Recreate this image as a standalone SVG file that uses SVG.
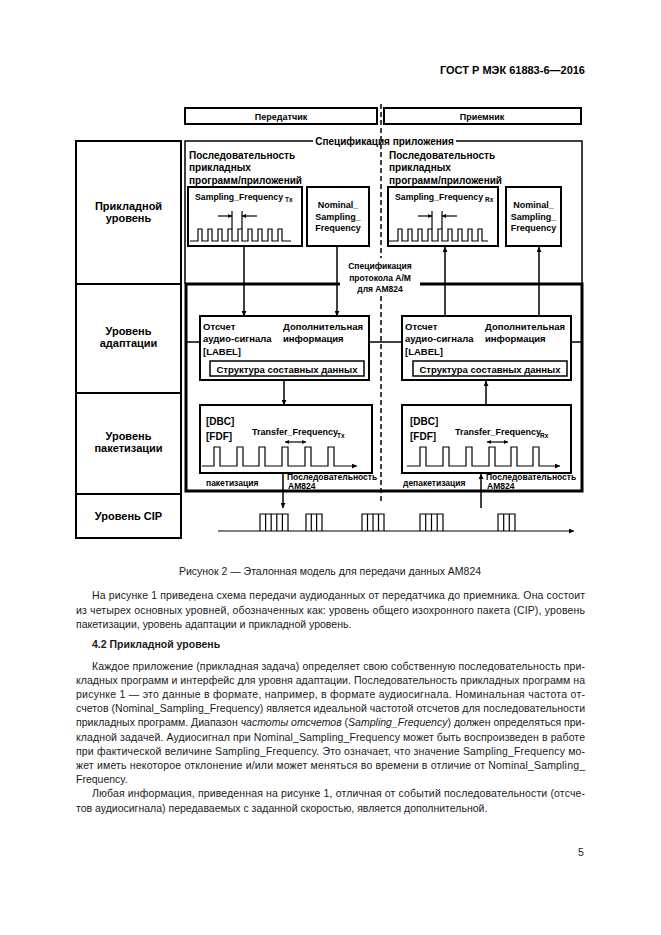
<svg xmlns="http://www.w3.org/2000/svg" width="661" height="935" viewBox="0 0 661 935">
<defs>
<style>
.t{font-family:"Liberation Sans",Arial,sans-serif;font-weight:bold;fill:#000}
.b{font-family:"Liberation Sans",Arial,sans-serif;font-size:10.5px;fill:#1a1a1a}
.bx{fill:none;stroke:#000;stroke-width:2}
.ln{fill:none;stroke:#000;stroke-width:1.5}
.th{fill:none;stroke:#000;stroke-width:3}
.pl{fill:none;stroke:#000;stroke-width:1.2}
.ar{fill:none;stroke:#000;stroke-width:1.5;marker-end:url(#ah)}
</style>
<marker id="ah" viewBox="0 0 10 10" refX="10" refY="5" markerWidth="6" markerHeight="5" orient="auto" markerUnits="userSpaceOnUse"><path d="M0,0 L10,5 L0,10 z" fill="#000"/></marker>
<marker id="as" viewBox="0 0 10 10" refX="10" refY="5" markerWidth="5" markerHeight="4" orient="auto-start-reverse" markerUnits="userSpaceOnUse"><path d="M0,0 L10,5 L0,10 z" fill="#000"/></marker>
</defs>
<rect width="661" height="935" fill="#fff"/>

<text class="t" x="585" y="74" font-size="11" text-anchor="end">ГОСТ Р МЭК 61883-6—2016</text>

<!-- top boxes -->
<g id="tx-header">
<rect class="bx" x="185" y="108" width="192" height="16"/>
<text class="t" x="281" y="119.5" font-size="9" text-anchor="middle">Передатчик</text>
</g>
<g id="rx-header">
<rect class="bx" x="384" y="108" width="197" height="16"/>
<text class="t" x="482" y="119.5" font-size="9" text-anchor="middle">Приемник</text>
</g>

<!-- left column levels -->
<g id="levels">
<rect class="bx" x="76" y="141" width="105" height="397"/>
<line class="bx" x1="76" y1="284" x2="181" y2="284"/>
<line class="bx" x1="76" y1="393" x2="181" y2="393"/>
<line class="bx" x1="76" y1="494" x2="181" y2="494"/>
<text class="t" x="128.5" y="210" font-size="11" text-anchor="middle">Прикладной</text>
<text class="t" x="128.5" y="222" font-size="11" text-anchor="middle">уровень</text>
<text class="t" x="128.5" y="334.5" font-size="11" text-anchor="middle">Уровень</text>
<text class="t" x="128.5" y="346.5" font-size="11" text-anchor="middle">адаптации</text>
<text class="t" x="128.5" y="440" font-size="11" text-anchor="middle">Уровень</text>
<text class="t" x="128.5" y="452" font-size="11" text-anchor="middle">пакетизации</text>
<text class="t" x="128.5" y="519.5" font-size="11" text-anchor="middle">Уровень CIP</text>
</g>

<!-- application spec frame -->
<g id="app-spec">
<polyline class="ln" points="185,284 185,141 582,141 582,284"/>
<rect x="313" y="135" width="143" height="12" fill="#fff"/>
<text class="t" x="384.5" y="144.5" font-size="10" text-anchor="middle">Спецификация приложения</text>
</g>

<!-- dashed separator -->
<line x1="381" y1="104" x2="381" y2="503" stroke="#000" stroke-width="1.5" stroke-dasharray="5,3"/>

<!-- protocol spec frame -->
<g id="protocol-spec">
<rect class="th" x="186" y="284" width="396" height="207"/>
<rect x="340" y="258" width="80" height="36" fill="#fff"/>
<text class="t" x="380" y="269" font-size="8.5" text-anchor="middle">Спецификация</text>
<text class="t" x="380" y="280.5" font-size="8.5" text-anchor="middle">протокола A/M</text>
<text class="t" x="380" y="292" font-size="8.5" text-anchor="middle">для AM824</text>
</g>

<!-- TX application -->
<g id="tx-app">
<text class="t" x="189" y="158.5" font-size="10">Последовательность</text>
<text class="t" x="189" y="171" font-size="10">прикладных</text>
<text class="t" x="189" y="183.5" font-size="10">программ/приложений</text>
</g>
<g id="tx-sampling">
<rect class="bx" x="188" y="187" width="114" height="59"/>
<text class="t" x="195" y="199.5" font-size="9" textLength="88" lengthAdjust="spacingAndGlyphs">Sampling_Frequency</text>
<text class="t" x="285" y="202" font-size="6.5">Tx</text>
<path class="pl" d="M190,241 H198 V229 H202 V241 H208 V229 H212 V241 H218 V229 H222 V241 H228 V229 H232 V241 H238 V229 H242 V241 H248 V229 H252 V241 H258 V229 H262 V241 H268 V229 H272 V241 H278 V229 H282 V241 H291"/>
<line class="pl" x1="232" y1="211" x2="232" y2="229"/>
<line class="pl" x1="242" y1="211" x2="242" y2="229"/>
<line class="pl" x1="218" y1="216" x2="232" y2="216" marker-end="url(#as)"/>
<line class="pl" x1="257" y1="216" x2="242" y2="216" marker-end="url(#as)"/>
</g>
<g id="tx-nominal">
<rect class="bx" x="307" y="187" width="62" height="59"/>
<text class="t" x="338" y="207.5" font-size="9" text-anchor="middle">Nominal_</text>
<text class="t" x="338" y="219.5" font-size="9" text-anchor="middle">Sampling_</text>
<text class="t" x="338" y="231" font-size="9" text-anchor="middle">Frequency</text>
</g>

<!-- RX application -->
<g id="rx-app">
<text class="t" x="389" y="158.5" font-size="10">Последовательность</text>
<text class="t" x="389" y="171" font-size="10">прикладных</text>
<text class="t" x="389" y="183.5" font-size="10">программ/приложений</text>
</g>
<g id="rx-sampling">
<rect class="bx" x="388" y="187" width="110" height="59"/>
<text class="t" x="395" y="199.5" font-size="9" textLength="88" lengthAdjust="spacingAndGlyphs">Sampling_Frequency</text>
<text class="t" x="485" y="202" font-size="6.5">Rx</text>
<path class="pl" d="M389,241 H398 V229 H402 V241 H408 V229 H412 V241 H418 V229 H422 V241 H428 V229 H432 V241 H438 V229 H442 V241 H448 V229 H452 V241 H458 V229 H462 V241 H468 V229 H472 V241 H478 V229 H482 V241 H488"/>
<line class="pl" x1="432" y1="211" x2="432" y2="229"/>
<line class="pl" x1="442" y1="211" x2="442" y2="229"/>
<line class="pl" x1="418" y1="216" x2="432" y2="216" marker-end="url(#as)"/>
<line class="pl" x1="457" y1="216" x2="442" y2="216" marker-end="url(#as)"/>
</g>
<g id="rx-nominal">
<rect class="bx" x="506" y="187" width="55" height="59"/>
<text class="t" x="533.5" y="207.5" font-size="9" text-anchor="middle">Nominal_</text>
<text class="t" x="533.5" y="219.5" font-size="9" text-anchor="middle">Sampling_</text>
<text class="t" x="533.5" y="231" font-size="9" text-anchor="middle">Frequency</text>
</g>

<!-- adaptation -->
<g id="tx-adapt">
<rect class="bx" x="200" y="316" width="169" height="64"/>
<text class="t" x="203" y="329.5" font-size="9.5">Отсчет</text>
<text class="t" x="203" y="342" font-size="9.5">аудио-сигнала</text>
<text class="t" x="203" y="355" font-size="9.5">[LABEL]</text>
<text class="t" x="283" y="329.5" font-size="9.5">Дополнительная</text>
<text class="t" x="283" y="342" font-size="9.5">информация</text>
<rect class="ln" x="210" y="361" width="154" height="15"/>
<text class="t" x="287" y="372.5" font-size="9.5" text-anchor="middle">Структура составных данных</text>
</g>
<g id="rx-adapt">
<rect class="bx" x="402" y="316" width="169" height="64"/>
<text class="t" x="405" y="329.5" font-size="9.5">Отсчет</text>
<text class="t" x="405" y="342" font-size="9.5">аудио-сигнала</text>
<text class="t" x="405" y="355" font-size="9.5">[LABEL]</text>
<text class="t" x="485" y="329.5" font-size="9.5">Дополнительная</text>
<text class="t" x="485" y="342" font-size="9.5">информация</text>
<rect class="ln" x="413" y="361" width="154" height="15"/>
<text class="t" x="490" y="372.5" font-size="9.5" text-anchor="middle">Структура составных данных</text>
</g>

<!-- packetization -->
<g id="tx-packet">
<rect class="bx" x="200" y="405" width="172" height="68"/>
<text class="t" x="206" y="424.5" font-size="10">[DBC]</text>
<text class="t" x="206" y="439.5" font-size="10">[FDF]</text>
<text class="t" x="252" y="435" font-size="9">Transfer_Frequency</text>
<text class="t" x="337" y="437.5" font-size="6.5">Tx</text>
<path class="pl" d="M202,466 H214 V447 H220 V466 H237 V447 H243 V466 H259 V447 H265 V466 H282 V447 H288 V466 H305 V447 H311 V466 H328 V447 H334 V466 H357" marker-end="url(#ah)"/>
<line class="pl" x1="285" y1="442" x2="306" y2="442" marker-start="url(#as)" marker-end="url(#as)"/>
</g>
<g id="rx-packet">
<rect class="bx" x="402" y="405" width="169" height="68"/>
<text class="t" x="410" y="424.5" font-size="10">[DBC]</text>
<text class="t" x="410" y="439.5" font-size="10">[FDF]</text>
<text class="t" x="455" y="435" font-size="9">Transfer_Frequency</text>
<text class="t" x="540" y="437.5" font-size="6.5">Rx</text>
<path class="pl" d="M407,466 H420 V447 H426 V466 H443 V447 H449 V466 H466 V447 H472 V466 H489 V447 H495 V466 H511 V447 H517 V466 H533 V447 H539 V466 H560" marker-end="url(#ah)"/>
<line class="pl" x1="487" y1="442" x2="508" y2="442" marker-start="url(#as)" marker-end="url(#as)"/>
</g>
<g id="packet-labels">
<text class="t" x="206" y="486" font-size="8.5">пакетизация</text>
<text class="t" x="287" y="480" font-size="8.5">Последовательность</text>
<text class="t" x="288" y="488.5" font-size="8.5">AM824</text>
<text class="t" x="403" y="486" font-size="8.5">депакетизация</text>
<text class="t" x="486" y="480" font-size="8.5">Последовательность</text>
<text class="t" x="487" y="488.5" font-size="8.5">AM824</text>
</g>

<!-- CIP -->
<g id="cip">
<line class="pl" x1="218" y1="531" x2="574" y2="531" marker-end="url(#ah)"/>
<path class="pl" d="M260,531 V514 H288 V531 M265.6,514 V531 M271.2,514 V531 M276.8,514 V531 M282.4,514 V531"/>
<path class="pl" d="M306,531 V514 H322 V531 M311.3,514 V531 M316.6,514 V531"/>
<path class="pl" d="M362,531 V514 H384 V531 M367.5,514 V531 M373,514 V531 M378.5,514 V531"/>
<path class="pl" d="M420,531 V514 H443 V531 M425.7,514 V531 M431.5,514 V531 M437.2,514 V531"/>
<path class="pl" d="M498,531 V514 H515 V531 M503.7,514 V531 M509.3,514 V531"/>
</g>

<!-- connectors -->
<g id="connectors">
<line class="ar" x1="244" y1="246" x2="244" y2="316"/>
<line class="ar" x1="337" y1="246" x2="337" y2="316"/>
<line class="ar" x1="445" y1="316" x2="445" y2="247"/>
<line class="ar" x1="539" y1="316" x2="539" y2="247"/>
<line class="ln" x1="186" y1="342" x2="200" y2="342"/>
<line class="ln" x1="369" y1="342" x2="402" y2="342"/>
<line class="ln" x1="571" y1="342" x2="582" y2="342"/>
<line class="ar" x1="284" y1="380" x2="284" y2="405"/>
<line class="ar" x1="486" y1="405" x2="486" y2="381"/>
<line class="ar" x1="283" y1="473" x2="283" y2="508"/>
<line class="ar" x1="481" y1="508" x2="481" y2="474"/>
</g>

<!-- caption and body text -->
<text class="b" x="330" y="575" font-size="9.5" text-anchor="middle">Рисунок 2 — Эталонная модель для передачи данных AM824</text>

<text class="b" x="92" y="599" textLength="493" lengthAdjust="spacing">На рисунке 1 приведена схема передачи аудиоданных от передатчика до приемника. Она состоит</text>
<text class="b" x="76" y="613.5" textLength="509" lengthAdjust="spacing">из четырех основных уровней, обозначенных как: уровень общего изохронного пакета (CIP), уровень</text>
<text class="b" x="76" y="628">пакетизации, уровень адаптации и прикладной уровень.</text>

<text class="b" x="92" y="647.5" font-weight="bold">4.2 Прикладной уровень</text>

<text class="b" x="92" y="669.5" textLength="493" lengthAdjust="spacing">Каждое приложение (прикладная задача) определяет свою собственную последовательность при-</text>
<text class="b" x="76" y="683.7" textLength="509" lengthAdjust="spacing">кладных программ и интерфейс для уровня адаптации. Последовательность прикладных программ на</text>
<text class="b" x="76" y="697.9" textLength="509" lengthAdjust="spacing">рисунке 1 — это данные в формате, например, в формате аудиосигнала. Номинальная частота от-</text>
<text class="b" x="76" y="712.1" textLength="509" lengthAdjust="spacing">счетов (Nominal_Sampling_Frequency) является идеальной частотой отсчетов для последовательности</text>
<text class="b" x="76" y="726.3" textLength="509" lengthAdjust="spacing">прикладных программ. Диапазон <tspan font-style="italic">частоты отсчетов</tspan> (<tspan font-style="italic">Sampling_Frequency</tspan>) должен определяться при-</text>
<text class="b" x="76" y="740.5" textLength="509" lengthAdjust="spacing">кладной задачей. Аудиосигнал при Nominal_Sampling_Frequency может быть воспроизведен в работе</text>
<text class="b" x="76" y="754.7" textLength="509" lengthAdjust="spacing">при фактической величине Sampling_Frequency. Это означает, что значение Sampling_Frequency мо-</text>
<text class="b" x="76" y="768.9" textLength="509" lengthAdjust="spacing">жет иметь некоторое отклонение и/или может меняться во времени в отличие от Nominal_Sampling_</text>
<text class="b" x="76" y="783.1">Frequency.</text>
<text class="b" x="92" y="797.3" textLength="493" lengthAdjust="spacing">Любая информация, приведенная на рисунке 1, отличная от событий последовательности (отсче-</text>
<text class="b" x="76" y="811.5">тов аудиосигнала) передаваемых с заданной скоростью, является дополнительной.</text>

<text class="b" x="581" y="856" font-size="10.5" text-anchor="middle">5</text>
</svg>
